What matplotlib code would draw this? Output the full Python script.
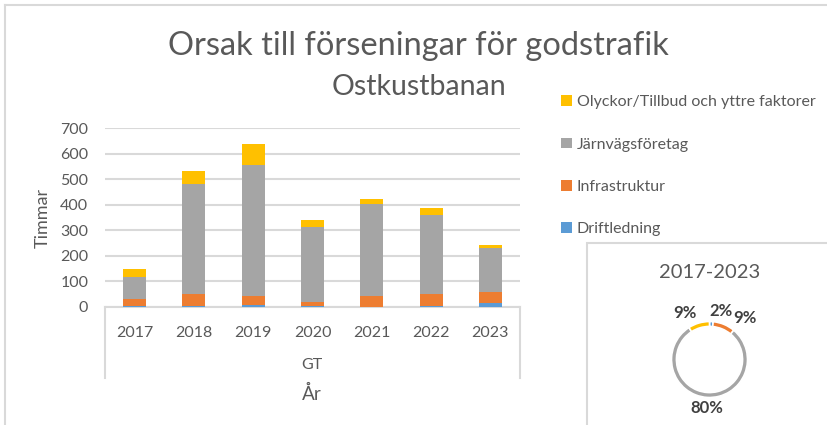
import numpy as np
import matplotlib
matplotlib.use("Agg")
from matplotlib import pyplot as plt
from matplotlib.lines import Line2D
from matplotlib.patches import Rectangle

plt.rcParams['font.family'] = ['Lato', 'DejaVu Sans']

years = ['2017', '2018', '2019', '2020', '2021', '2022', '2023']
driftledning = [5, 4, 9, 2, 1, 4, 17]
infrastruktur = [28, 48, 34, 18, 42, 47, 40]
jarnvagsforetag = [84, 430, 514, 292, 362, 310, 175]
olyckor = [30, 49, 83, 29, 20, 25, 11]

series_names = ['Driftledning', 'Infrastruktur', 'Järnvägsföretag',
                'Olyckor/Tillbud och yttre faktorer']
colors = ['#5B9BD5', '#ED7D31', '#A5A5A5', '#FFC000']
text_col = '#595959'
line_col = '#D9D9D9'

W, H = 827, 425


def fx(px):
    return px / W


def fy(py):
    return 1 - py / H


fig = plt.figure(figsize=(W / 100, H / 100), dpi=100)

# outer chart border (only top and left visible)
fig.add_artist(Line2D([fx(5), fx(827)], [fy(5), fy(5)], color=line_col, lw=1.5))
fig.add_artist(Line2D([fx(5), fx(5)], [fy(5), fy(425)], color=line_col, lw=1.5))

# titles
fig.text(fx(418), fy(55), 'Orsak till förseningar för godstrafik', ha='center',
         va='baseline', fontsize=23.5, color=text_col)
fig.text(fx(419), fy(95), 'Ostkustbanan', ha='center', va='baseline',
         fontsize=20.5, color=text_col)

# stacked bars
ax = fig.add_axes([fx(105), fy(307), fx(520) - fx(105), fy(128.3) - fy(307)])
x = np.arange(len(years))
bottom = np.zeros(len(years))
bars = []
for vals, c, name in zip([driftledning, infrastruktur, jarnvagsforetag, olyckor],
                         colors, series_names):
    b = ax.bar(x, vals, 0.39, bottom=bottom, color=c, label=name, zorder=3)
    bars.append(b)
    bottom += np.array(vals)

ax.set_xlim(-0.5, len(years) - 0.5)
ax.set_ylim(0, 700)
ax.set_yticks(range(0, 701, 100))
ax.yaxis.grid(True, color=line_col, lw=1.5, zorder=0)
ax.set_axisbelow(True)
for s in ['top', 'right', 'left']:
    ax.spines[s].set_visible(False)
ax.spines['bottom'].set_color(line_col)
ax.spines['bottom'].set_linewidth(1.5)
ax.tick_params(axis='y', length=0, pad=12, labelsize=11.5, labelcolor=text_col)
ax.tick_params(axis='x', length=0, pad=14, labelsize=11.5, labelcolor=text_col)
ax.set_xticks(x)
ax.set_xticklabels(years)
ax.set_ylabel('Timmar', fontsize=13, color=text_col, labelpad=7)

# multi-level category box
for xp in (105, 520):
    fig.add_artist(Line2D([fx(xp), fx(xp)], [fy(307), fy(378)], color=line_col, lw=1.5))
fig.text(fx(312), fy(365), 'GT', ha='center', va='center', fontsize=11.5, color=text_col)
fig.text(fx(312), fy(394), 'År', ha='center', va='center', fontsize=13.5, color=text_col)

# legend
leg = fig.legend(handles=bars[::-1], labels=series_names[::-1], loc='upper left',
                 bbox_to_anchor=(fx(547), fy(81)), frameon=False, fontsize=11.5,
                 labelcolor=text_col, handlelength=0.65, handleheight=0.65,
                 handletextpad=0.3, labelspacing=1.77)

# donut panel
fig.add_artist(Rectangle((fx(587), fy(440)), fx(260), fy(243) - fy(440),
                         fill=False, edgecolor=line_col, lw=1.5,
                         transform=fig.transFigure))
fig.text(fx(710), fy(272), '2017-2023', ha='center', va='center', fontsize=14.5,
         color=text_col)

totals = [sum(driftledning), sum(infrastruktur), sum(jarnvagsforetag), sum(olyckor)]
size = 130
cx, cy, r = 709.5, 359.5, 38
ax2 = fig.add_axes([fx(cx - size / 2), fy(cy + size / 2), size / W, size / H])
wedges, _, autotexts = ax2.pie(totals, colors=colors, startangle=90,
                               counterclock=False, radius=1,
                               wedgeprops=dict(width=0.13, edgecolor='white', lw=1.2),
                               autopct='%1.0f%%', pctdistance=1.27,
                               textprops=dict(fontsize=12, fontweight='bold',
                                              color='#404040'))
lim = size / 2 / r
ax2.set_xlim(-lim, lim)
ax2.set_ylim(-lim, lim)
ax2.set_aspect('equal')
ax2.axis('off')

# spread the crowded labels at the top apart
offsets = [(0.25, 0.0), (0.45, -0.08), (0.0, 0.0), (-0.3, 0.0)]
for t, (dx, dy) in zip(autotexts, offsets):
    px, py = t.get_position()
    t.set_position((px + dx, py + dy))

fig.savefig('out.png', dpi=100)
